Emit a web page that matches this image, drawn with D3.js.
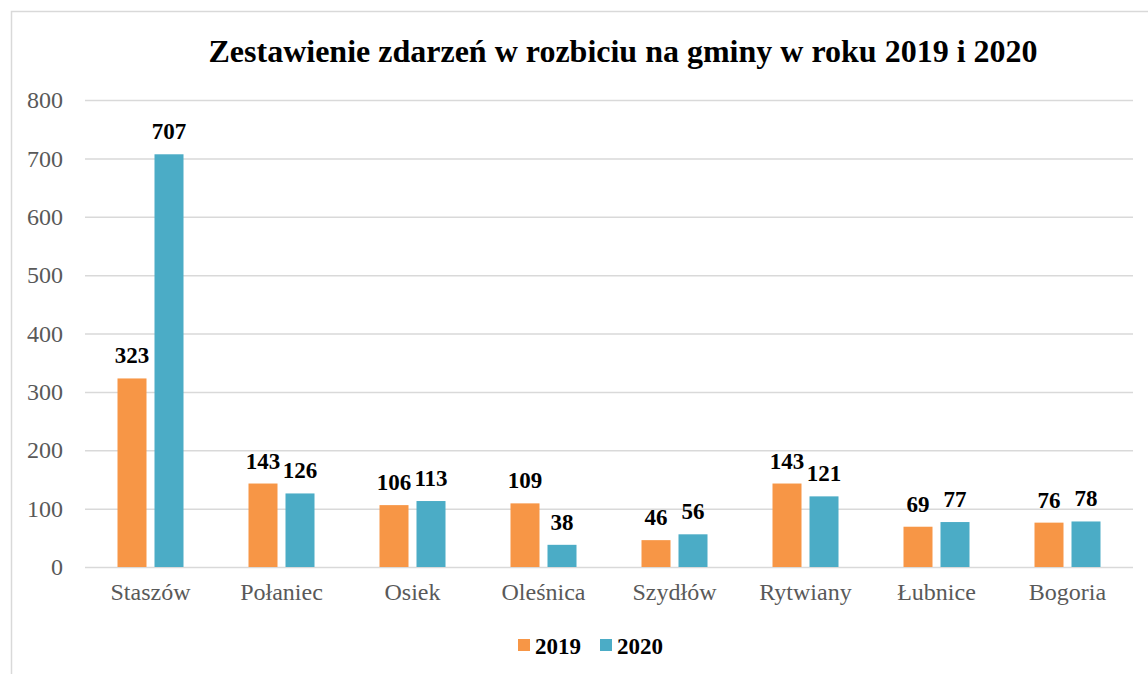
<!DOCTYPE html>
<html lang="pl">
<head>
<meta charset="utf-8">
<script src="https://d3js.org/d3.v7.min.js"></script>
<style>
  body { margin: 0; background: #fff; }
  svg { font-family: "Liberation Serif", "Times New Roman", serif; }
</style>
</head>
<body>
<div id="chart"></div>
<script>
const gminy = ["Staszów", "Połaniec", "Osiek", "Oleśnica", "Szydłów", "Rytwiany", "Łubnice", "Bogoria"];
const years = ["2019", "2020"];
const values2019 = [323, 143, 106, 109, 46, 143, 69, 76];
const values2020 = [707, 126, 113, 38, 56, 121, 77, 78];
const yTicks = [0, 100, 200, 300, 400, 500, 600, 700, 800];
const colors = ["#F79646", "#4BACC6"];

const W = 1148, H = 674;
const margin = {top: 100, right: 15, bottom: 107, left: 85};
const width = W - margin.left - margin.right,
      height = H - margin.top - margin.bottom;

const svg = d3.select("#chart").append("svg")
  .attr("width", W).attr("height", H);

// chart frame
svg.append("rect")
  .attr("x", 11.5).attr("y", 11.5)
  .attr("width", W + 20).attr("height", H + 20)
  .attr("fill", "none").attr("stroke", "#d9d9d9").attr("stroke-width", 1.5);

svg.append("text")
  .attr("x", 623).attr("y", 62)
  .attr("text-anchor", "middle")
  .attr("font-size", 32).attr("font-weight", "bold")
  .text("Zestawienie zdarzeń w rozbiciu na gminy w roku 2019 i 2020");

const g = svg.append("g").attr("transform", `translate(${margin.left},${margin.top})`);

const x0 = d3.scaleBand().domain(gminy).range([0, width]);
const y = d3.scaleLinear().domain([0, 800]).range([height, 0]);

// gridlines + y labels
const yAxis = d3.axisLeft(y).tickValues(yTicks).tickSize(-width).tickPadding(22);
g.append("g").call(yAxis)
  .call(s => s.select(".domain").remove())
  .call(s => s.selectAll("line").attr("stroke", "#d9d9d9").attr("stroke-width", 1.5))
  .call(s => s.selectAll("text").attr("fill", "#595959").attr("font-size", 24)
    .attr("font-family", "Liberation Serif"));

// x labels
const xAxis = d3.axisBottom(x0).tickSize(0).tickPadding(16);
g.append("g").attr("transform", `translate(0,${height})`).call(xAxis)
  .call(s => s.select(".domain").remove())
  .call(s => s.selectAll("text").attr("fill", "#595959").attr("font-size", 24)
    .attr("font-family", "Liberation Serif"));

const series = [values2019, values2020];
const barW = 29, gap = 8;

series.forEach((vals, si) => {
  const off = si === 0 ? -gap / 2 - barW : gap / 2;
  g.append("g").selectAll("rect").data(vals).enter().append("rect")
    .attr("x", (d, i) => x0(gminy[i]) + x0.bandwidth() / 2 + off)
    .attr("y", d => y(d))
    .attr("width", barW)
    .attr("height", d => height - y(d))
    .attr("fill", colors[si]);
  g.append("g").selectAll("text").data(vals).enter().append("text")
    .attr("x", (d, i) => x0(gminy[i]) + x0.bandwidth() / 2 + off + barW / 2)
    .attr("y", d => y(d) - 15)
    .attr("text-anchor", "middle")
    .attr("font-size", 23).attr("font-weight", "bold")
    .text(d => d);
});

// legend
const legend = svg.append("g");
const legX = [518, 600];
years.forEach((yr, i) => {
  legend.append("rect")
    .attr("x", legX[i]).attr("y", 639)
    .attr("width", 12).attr("height", 12)
    .attr("fill", colors[i]);
  legend.append("text")
    .attr("x", legX[i] + 17).attr("y", 654)
    .attr("font-size", 23).attr("font-weight", "bold")
    .text(yr);
});
</script>
</body>
</html>
